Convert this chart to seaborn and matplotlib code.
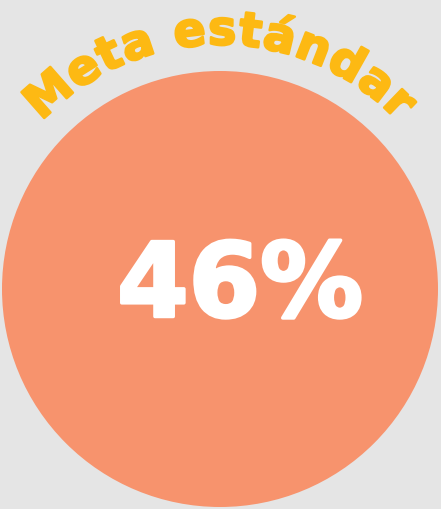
#!/usr/bin/env python3
# -*- coding: utf-8 -*-
import numpy as np
import matplotlib
matplotlib.use('Agg')
import matplotlib.pyplot as plt
import matplotlib.patheffects as pe
from matplotlib.patches import Circle
from matplotlib.font_manager import FontProperties
import seaborn as sns

# --------------------
# DATA
# --------------------
labels = ['Meta estándar']
values = [46]

# --------------------
# STYLE
# --------------------
bg_color = '#e5e5e5'
circle_color = '#f7936d'
arc_text_color = '#fdb913'
W, H = 441, 510

sns.set_theme(style='white', rc={'figure.facecolor': bg_color,
                                 'axes.facecolor': bg_color})
plt.rcParams['font.family'] = ['DejaVu Sans']

fig = plt.figure(figsize=(W / 100, H / 100), dpi=100)
ax = fig.add_axes([0, 0, 1, 1])
ax.set_xlim(0, W)
ax.set_ylim(H, 0)
ax.set_aspect('equal')
ax.axis('off')

# big disc
cx, cy, r = 220, 290, 218
ax.add_patch(Circle((cx, cy), r, color=circle_color, lw=0))

# value in the middle
ax.text(cx + 20, cy - 1, '{}%'.format(values[0]), color='white',
        fontsize=74, fontweight='bold', ha='center', va='center',
        path_effects=[pe.withStroke(linewidth=2.5, foreground='white')])

# curved label along an arc above the disc
fp = FontProperties(family='DejaVu Sans', weight='bold', size=34)
renderer = fig.canvas.get_renderer()
text = labels[0]
spacing = 2.5  # extra tracking in px
prefix = [0.0]
for i in range(1, len(text) + 1):
    w, _, _ = renderer.get_text_width_height_descent(text[:i].replace(' ', '\u00a0'), fp, ismath=False)
    prefix.append(w + spacing * i)
total = prefix[-1] - spacing
R = 257
for i, ch in enumerate(text):
    if ch == ' ':
        continue
    s = (prefix[i] + prefix[i + 1] - spacing) / 2 - total / 2
    theta = np.pi / 2 - s / R
    x = cx + R * np.cos(theta)
    y = cy - R * np.sin(theta)
    ax.text(x, y, ch, fontproperties=fp, color=arc_text_color,
            rotation=np.degrees(theta) - 90, rotation_mode='anchor',
            ha='center', va='center',
            path_effects=[pe.withStroke(linewidth=1.8, foreground=arc_text_color)])

fig.savefig('out.png', dpi=100, facecolor=bg_color)
